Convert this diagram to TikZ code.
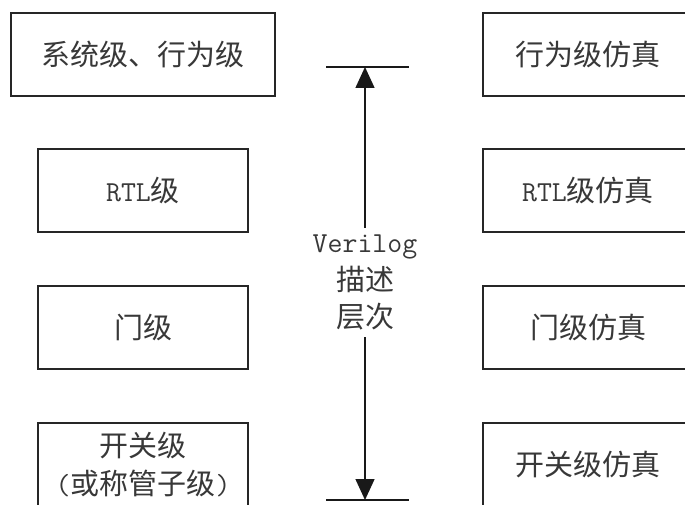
\documentclass[tikz,border=0pt]{standalone}
\usepackage{fontspec}
\newfontfamily\cjk{Noto Sans CJK SC}
\newcommand\lat[1]{{\ttfamily #1}}
\usetikzlibrary{arrows.meta}
\begin{document}
\begin{tikzpicture}[x=1pt,y=-1pt,
  lbl/.style={text=black!78, font=\cjk\fontsize{29}{37.5}\selectfont, align=center},
  box/.style={lbl, draw=black!85, line width=1.5pt, minimum height=83pt, inner sep=0pt},
  bar/.style={line width=1.5pt, draw=black!90},
  arr/.style={line width=1.5pt, draw=black!90, -{Triangle[width=19pt,length=21pt]}}]
\useasboundingbox (0,0) rectangle (685,505);
\clip (0,0) rectangle (685,505);
% left column
\node[box, minimum width=264pt] (sys)  at (143,54.5)  {系统级、行为级};
\node[box, minimum width=210pt] (rtl)  at (143,190.5) {\lat{RTL}级};
\node[box, minimum width=210pt] (gate) at (143,327.5) {门级};
\node[box, minimum width=210pt] (sw)   at (143,464.5) {开关级\\\lat{(}或称管子级\lat{)}};
% right column
\node[box, minimum width=210pt] (simb) at (588,54.5)  {行为级仿真};
\node[box, minimum width=210pt] (simr) at (588,190.5) {\lat{RTL}级仿真};
\node[box, minimum width=210pt] (simg) at (588,327.5) {门级仿真};
\node[box, minimum width=210pt] (sims) at (588,464.5) {开关级仿真};
% middle
\node[lbl, inner xsep=0pt, inner ysep=6.75pt] (mid) at (365,282.5) {\lat{Verilog}\\描述\\层次};
\coordinate (ttop) at (365,67);
\coordinate (tbot) at (365,500);
\coordinate (tl) at (326,67);
\coordinate (tr) at (409,67);
\coordinate (bl) at (326,500);
\coordinate (br) at (409,500);
\draw[bar] (tl) -- (tr);
\draw[bar] (bl) -- (br);
\draw[arr] (mid.north) -- (ttop);
\draw[arr] (mid.south) -- (tbot);
\end{tikzpicture}
\end{document}
